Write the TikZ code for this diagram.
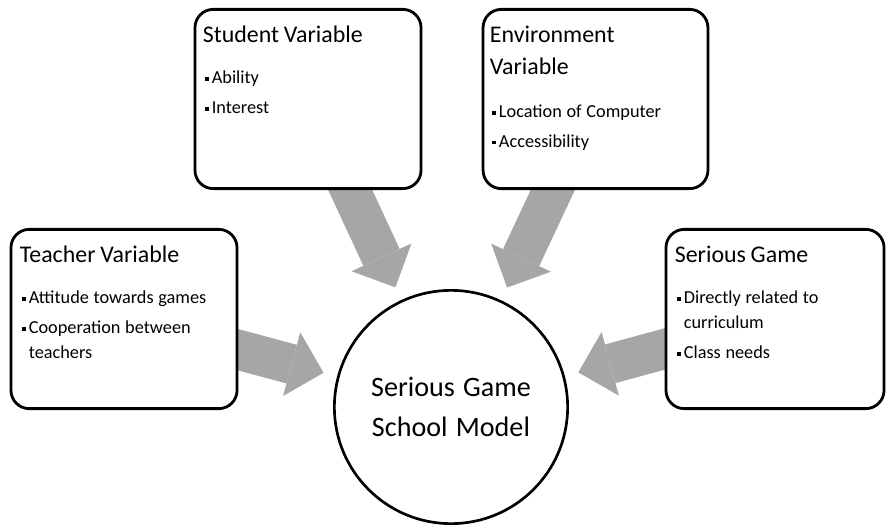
\documentclass[tikz,border=0pt]{standalone}
\usepackage{fontspec}
\setmainfont[WordSpace=1.3]{Carlito}
\usepackage{tikz}
\usetikzlibrary{arrows.meta,backgrounds}
\definecolor{flowgray}{HTML}{A6A6A6}

% heading and bullet lines inside the variable boxes
\newcommand{\vartitle}[1]{{\fontsize{17pt}{22.7pt}\selectfont\noindent\rule{0pt}{14pt}#1\par}}
\newcommand{\varitem}[2][3.3pt]{\vspace{#1}{\fontsize{13pt}{18pt}\selectfont
  \hangindent=6.4pt\hangafter=1\noindent\hspace*{1.4pt}\makebox[5pt][l]{\rule[1.8pt]{2.7pt}{2.7pt}}#2\par}}

\begin{document}
\begin{tikzpicture}[x=0.025cm, y=-0.025cm,
    varbox/.style={draw, line width=2pt, rounded corners=13pt, fill=white,
      minimum height=4.48cm, inner sep=0pt},
    vartext/.style={anchor=north west, inner sep=0pt, text width=5.2cm},
    flow/.style={draw=flowgray, line width=1cm, shorten >=0.35cm,
      -{Triangle[length=0.825cm, width=1.65cm, line width=0pt]}},
    modelcircle/.style={circle, draw, line width=1.9pt, fill=white,
      minimum size=5.83cm, align=center,
      font=\fontsize{20pt}{29pt}\selectfont}]
  \useasboundingbox (0,0) rectangle (887,528);

  % the model in the middle
  \node[modelcircle] (model) at (451,407) {Serious Game\\School Model};

  % the four variable boxes
  \node[varbox, minimum width=5.65cm] (student) at (308,99) {};
  \node[varbox, minimum width=5.62cm] (environment) at (595.5,99) {};
  \node[varbox, minimum width=5.65cm] (teacher) at (124,319) {};
  \node[varbox, minimum width=5.45cm] (game) at (775,319) {};

  % block arrows into the model
  \begin{scope}[on background layer]
    \draw[flow] (student.center) -- (model);
    \draw[flow] (environment.center) -- (model);
    \draw[flow] (teacher.center) -- (model);
    \draw[flow] (game.center) -- (model);
  \end{scope}

  % box contents
  \node[vartext] (student-text) at ([shift={(9,15)}]student.north west) {%
    \vartitle{Student Variable}
    \varitem[11pt]{Ability}
    \varitem{Interest}};
  \node[vartext] (environment-text) at ([shift={(8,15)}]environment.north west) {%
    \vartitle{Environment\newline Variable}
    \varitem[12pt]{Location of Computer}
    \varitem{Accessibility}};
  \node[vartext] (teacher-text) at ([shift={(10,14.5)}]teacher.north west) {%
    \vartitle{Teacher Variable}
    \varitem[11pt]{Attitude towards games}
    \varitem{Cooperation between\newline teachers}};
  \node[vartext] (game-text) at ([shift={(10,14.5)}]game.north west) {%
    \vartitle{Serious Game}
    \varitem[11pt]{Directly related to\newline curriculum}
    \varitem{Class needs}};
\end{tikzpicture}
\end{document}
